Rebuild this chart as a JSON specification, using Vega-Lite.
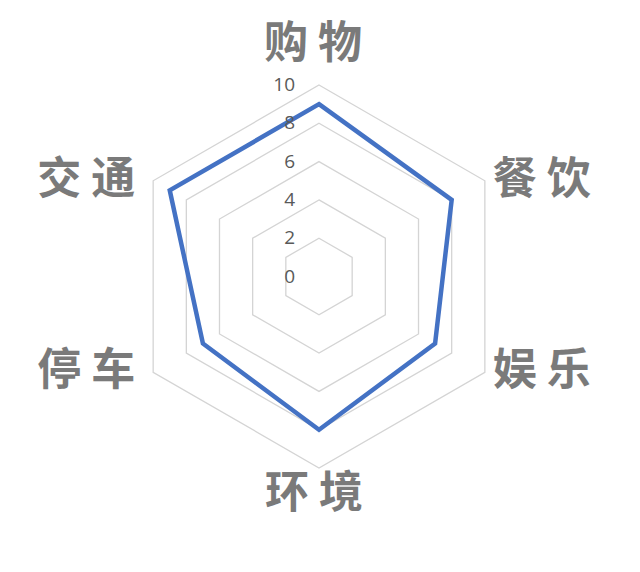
{
  "$schema": "https://vega.github.io/schema/vega-lite/v6.json",
  "width": 640,
  "height": 572,
  "autosize": {"type": "none"},
  "padding": 0,
  "background": "white",
  "config": {"view": {"stroke": null}},
  "datasets": {
    "scores": [
      {"cat": "购 物", "idx": 0, "value": 9},
      {"cat": "餐 饮", "idx": 1, "value": 8},
      {"cat": "娱 乐", "idx": 2, "value": 7},
      {"cat": "环 境", "idx": 3, "value": 8},
      {"cat": "停 车", "idx": 4, "value": 7},
      {"cat": "交 通", "idx": 5, "value": 9}
    ],
    "levels": [
      {"level": 0}, {"level": 2}, {"level": 4}, {"level": 6}, {"level": 8}, {"level": 10}
    ]
  },
  "layer": [
    {
      "data": {"name": "scores"},
      "transform": [
        {"calculate": "[2,4,6,8,10]", "as": "lv"},
        {"flatten": ["lv"]},
        {"calculate": "datum.lv * sin(datum.idx * PI / 3)", "as": "px"},
        {"calculate": "datum.lv * cos(datum.idx * PI / 3)", "as": "py"}
      ],
      "mark": {"type": "line", "interpolate": "linear-closed", "stroke": "#d4d4d4", "strokeWidth": 1.3},
      "encoding": {
        "x": {"field": "px", "type": "quantitative", "scale": {"domain": [-16.658, 16.762], "nice": false, "zero": false}, "axis": null},
        "y": {"field": "py", "type": "quantitative", "scale": {"domain": [-15.431, 14.439], "nice": false, "zero": false}, "axis": null},
        "detail": {"field": "lv", "type": "nominal"},
        "order": {"field": "idx", "type": "quantitative"}
      }
    },
    {
      "data": {"name": "scores"},
      "transform": [
        {"calculate": "datum.value * sin(datum.idx * PI / 3)", "as": "px"},
        {"calculate": "datum.value * cos(datum.idx * PI / 3)", "as": "py"}
      ],
      "mark": {"type": "line", "interpolate": "linear-closed", "stroke": "#4472c4", "strokeWidth": 4.5, "strokeJoin": "miter"},
      "encoding": {
        "x": {"field": "px", "type": "quantitative", "axis": null},
        "y": {"field": "py", "type": "quantitative", "axis": null},
        "order": {"field": "idx", "type": "quantitative"}
      }
    },
    {
      "data": {"name": "levels"},
      "transform": [{"calculate": "0", "as": "px"}],
      "mark": {"type": "text", "align": "right", "baseline": "middle", "dx": -24, "fontSize": 19, "font": "Open Sans", "fill": "#595959"},
      "encoding": {
        "x": {"field": "px", "type": "quantitative", "axis": null},
        "y": {"field": "level", "type": "quantitative", "axis": null},
        "text": {"field": "level", "type": "quantitative"}
      }
    },
    {
      "data": {"name": "scores"},
      "transform": [
        {"filter": "datum.idx == 0"},
        {"calculate": "10 * sin(datum.idx * PI / 3)", "as": "px"},
        {"calculate": "10 * cos(datum.idx * PI / 3)", "as": "py"}
      ],
      "mark": {"type": "text", "align": "center", "baseline": "middle", "dx": -6, "dy": -40, "fontSize": 44, "fontWeight": "bold", "font": "Noto Sans CJK SC", "fill": "#7a7a7a"},
      "encoding": {
        "x": {"field": "px", "type": "quantitative", "axis": null},
        "y": {"field": "py", "type": "quantitative", "axis": null},
        "text": {"field": "cat"}
      }
    },
    {
      "data": {"name": "scores"},
      "transform": [
        {"filter": "datum.idx == 3"},
        {"calculate": "10 * sin(datum.idx * PI / 3)", "as": "px"},
        {"calculate": "10 * cos(datum.idx * PI / 3)", "as": "py"}
      ],
      "mark": {"type": "text", "align": "center", "baseline": "middle", "dx": -5, "dy": 27, "fontSize": 44, "fontWeight": "bold", "font": "Noto Sans CJK SC", "fill": "#7a7a7a"},
      "encoding": {
        "x": {"field": "px", "type": "quantitative", "axis": null},
        "y": {"field": "py", "type": "quantitative", "axis": null},
        "text": {"field": "cat"}
      }
    },
    {
      "data": {"name": "scores"},
      "transform": [
        {"filter": "datum.idx == 1 || datum.idx == 2"},
        {"calculate": "10 * sin(datum.idx * PI / 3)", "as": "px"},
        {"calculate": "10 * cos(datum.idx * PI / 3)", "as": "py"}
      ],
      "mark": {"type": "text", "align": "left", "baseline": "middle", "dx": 8, "dy": 0, "fontSize": 44, "fontWeight": "bold", "font": "Noto Sans CJK SC", "fill": "#7a7a7a"},
      "encoding": {
        "x": {"field": "px", "type": "quantitative", "axis": null},
        "y": {"field": "py", "type": "quantitative", "axis": null},
        "text": {"field": "cat"}
      }
    },
    {
      "data": {"name": "scores"},
      "transform": [
        {"filter": "datum.idx == 4 || datum.idx == 5"},
        {"calculate": "10 * sin(datum.idx * PI / 3)", "as": "px"},
        {"calculate": "10 * cos(datum.idx * PI / 3)", "as": "py"}
      ],
      "mark": {"type": "text", "align": "right", "baseline": "middle", "dx": -18, "dy": 0, "fontSize": 44, "fontWeight": "bold", "font": "Noto Sans CJK SC", "fill": "#7a7a7a"},
      "encoding": {
        "x": {"field": "px", "type": "quantitative", "axis": null},
        "y": {"field": "py", "type": "quantitative", "axis": null},
        "text": {"field": "cat"}
      }
    }
  ]
}
